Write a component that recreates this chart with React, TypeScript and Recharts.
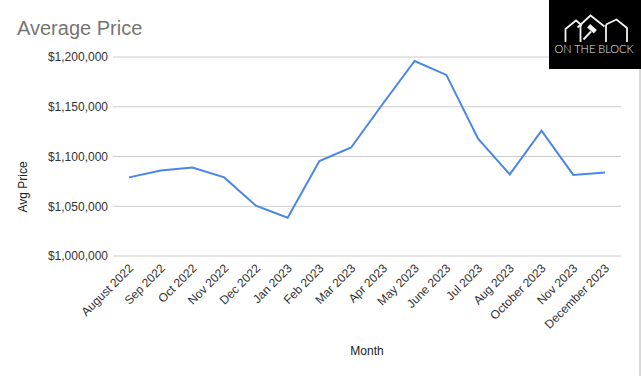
import React from 'react';
import { LineChart, Line, XAxis, YAxis, CartesianGrid } from 'recharts';

const months = [
  'August 2022', 'Sep 2022', 'Oct 2022', 'Nov 2022', 'Dec 2022', 'Jan 2023',
  'Feb 2023', 'Mar 2023', 'Apr 2023', 'May 2023', 'June 2023', 'Jul 2023',
  'Aug 2023', 'October 2023', 'Nov 2023', 'December 2023',
];
const avgPrice = [
  1079000, 1086000, 1089000, 1079000, 1050500, 1038500,
  1095500, 1109000, 1153000, 1196000, 1182000, 1118000,
  1082000, 1126000, 1081500, 1084000,
];
const yTicks = [1000000, 1050000, 1100000, 1150000, 1200000];

const data = months.map((m, i) => ({ month: m, price: avgPrice[i] }));

const fmt = (v: number) => '$' + v.toLocaleString('en-US');

const FONT = 'Arial, "Liberation Sans", sans-serif';

const XTick = (props: any) => {
  const { x, y, payload } = props;
  return (
    <g transform={`translate(${x + 5},${y + 13})`}>
      <text x={0} y={0} textAnchor="end" transform="rotate(-45)" fontSize={12} fill="#333" fontFamily={FONT}>
        {payload.value}
      </text>
    </g>
  );
};

export default function App() {
  return (
    <div style={{ position: 'absolute', left: 0, top: 0, width: 641, height: 376, background: '#fff', fontFamily: FONT }}>
      <LineChart width={641} height={376} data={data} margin={{ top: 57, right: 20, left: 0, bottom: 20 }}>
        <CartesianGrid vertical={false} stroke="#cccccc" />
        <XAxis
          dataKey="month"
          height={100}
          axisLine={false}
          tickLine={false}
          tickSize={0}
          tickMargin={0}
          interval={0}
          padding={{ left: 16, right: 16 }}
          tick={<XTick />}
          label={{
            content: () => (
              <text x={367} y={355} textAnchor="middle" fontSize={12} fill="#222" fontFamily={FONT}>Month</text>
            ),
          }}
        />
        <YAxis
          width={113}
          domain={[1000000, 1200000]}
          ticks={yTicks}
          axisLine={false}
          tickLine={false}
          tickSize={0}
          tickMargin={5}
          tickFormatter={fmt}
          tick={{ fontSize: 12, fill: '#333', fontFamily: FONT }}
          label={{
            content: () => (
              <text x={27} y={187} textAnchor="middle" transform="rotate(-90 27 187)" fontSize={12} fill="#222" fontFamily={FONT}>Avg Price</text>
            ),
          }}
        />
        <Line type="linear" dataKey="price" stroke="#4a86e8" strokeWidth={2} dot={false} isAnimationActive={false} />
      </LineChart>
      <svg width={641} height={376} style={{ position: 'absolute', left: 0, top: 0, pointerEvents: 'none' }}>
        <text x={17} y={35} fontSize={20} fill="#757575" fontFamily={FONT}>Average Price</text>
        <line x1={640} y1={69} x2={640} y2={376} stroke="#b0b0b0" strokeWidth={1} />
        <rect x={549} y={0} width={92} height={69} fill="#000" />
        <g stroke="#f2f2f2" strokeWidth={1.8} fill="none" strokeLinejoin="miter">
          <path d="M565.5,42 V29 L576,20.5 L582,25.5" />
          <path d="M577.5,27.5 L590.5,15.5 L604.5,26.5" />
          <path d="M580.5,42 V26" />
          <path d="M606,42 V24.5" />
          <path d="M606,24.5 L616.5,19.5 L627,28 V42" />
          <path d="M583.5,39.5 L591,31.5" strokeWidth={2} />
        </g>
        <rect x={587.5} y={26.5} width={9} height={4.5} fill="#f2f2f2" transform="rotate(42 592 28.75)" />
        <text x={594} y={52.5} textAnchor="middle" fontSize={11} fill="#f2f2f2" fontFamily="Lato, 'Open Sans', sans-serif" fontWeight={300}>ON THE BLOCK</text>
      </svg>
    </div>
  );
}
